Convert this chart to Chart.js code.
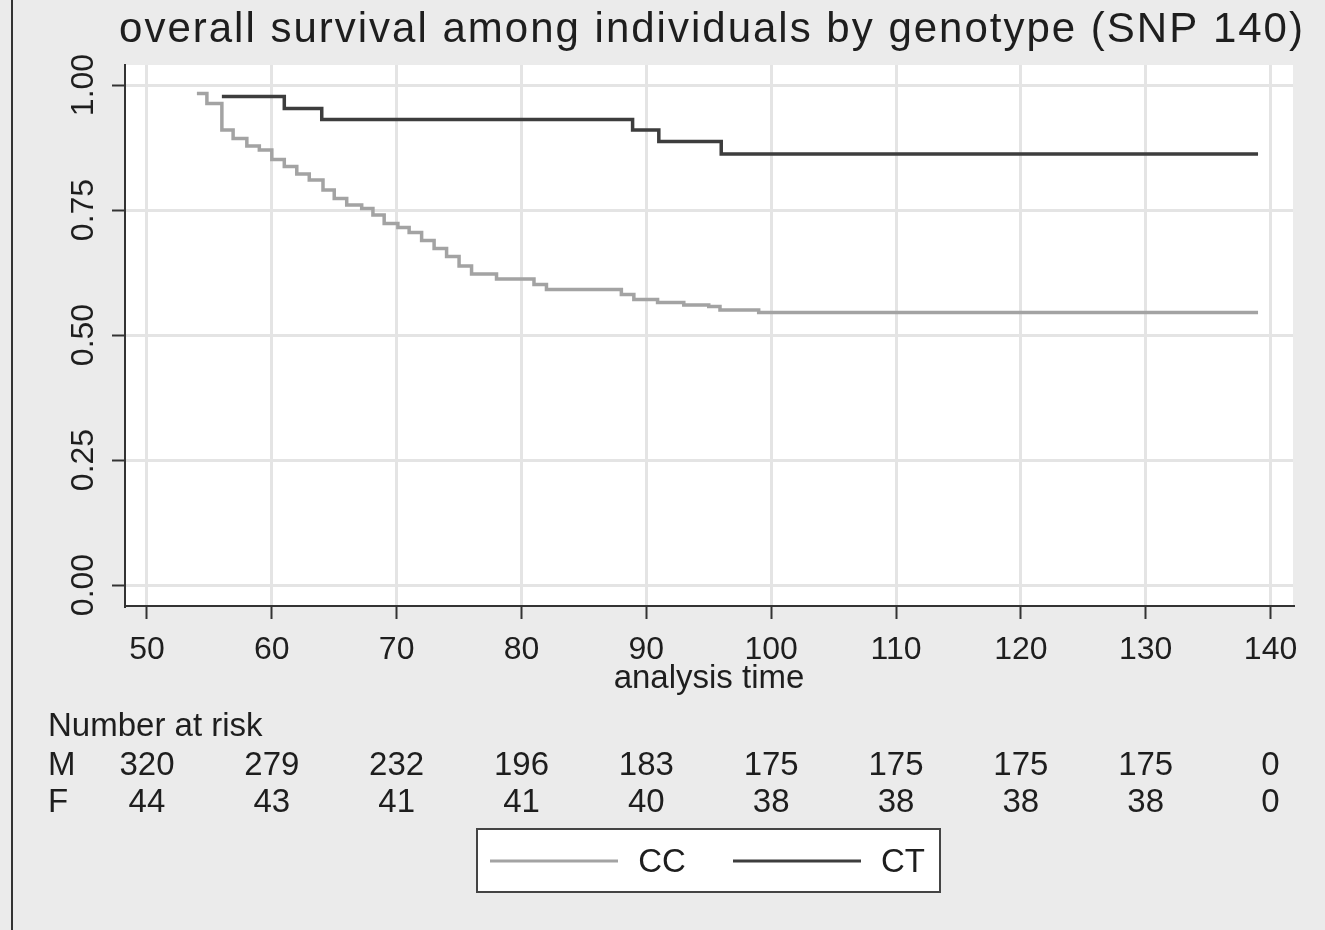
<!DOCTYPE html>
<html>
<head>
<meta charset="utf-8">
<script src="https://cdn.jsdelivr.net/npm/chart.js@4"></script>
<style>
  body { margin: 0; background: #ebebeb; }
  #wrap { width: 1325px; height: 930px; position: relative; }
</style>
</head>
<body>
<div id="wrap"><canvas id="myChart"></canvas></div>
<script>
// Kaplan-Meier steps
const ccTime = [54.0, 54.8, 56.0, 56.9, 58.0, 59.0, 60.0, 61.0, 62.0, 63.0, 64.1, 65.0, 66.0, 67.2, 68.1, 69.0, 70.1, 71.0, 72.0, 73.0, 74.0, 75.0, 76.0, 78.0, 81.0, 82.0, 88.0, 89.0, 90.9, 93.0, 95.0, 95.9, 99.0, 139.0];
const ccSurv = [0.983, 0.963, 0.910, 0.893, 0.878, 0.870, 0.851, 0.837, 0.822, 0.810, 0.790, 0.773, 0.760, 0.753, 0.740, 0.723, 0.715, 0.705, 0.689, 0.673, 0.657, 0.638, 0.622, 0.612, 0.601, 0.591, 0.581, 0.571, 0.565, 0.560, 0.557, 0.550, 0.545, 0.545];
const ctTime = [56.0, 61.0, 64.0, 88.9, 91.0, 96.0, 139.0];
const ctSurv = [0.977, 0.953, 0.931, 0.910, 0.887, 0.862, 0.862];

// number at risk table
const riskTimes = [50, 60, 70, 80, 90, 100, 110, 120, 130, 140];
const riskM = [320, 279, 232, 196, 183, 175, 175, 175, 175, 0];
const riskF = [44, 43, 41, 41, 40, 38, 38, 38, 38, 0];

const FONT = "'Liberation Sans', Arial, Helvetica, sans-serif";
Chart.defaults.font.family = FONT;
Chart.defaults.color = '#1e1e1e';

function toPoints(xs, ys) {
  return xs.map((x, i) => ({x: x, y: ys[i]}));
}

const stataPlugin = {
  id: 'stataLook',
  beforeDraw(chart) {
    const {ctx, chartArea: a} = chart;
    ctx.save();
    ctx.fillStyle = '#ebebeb';
    ctx.fillRect(0, 0, chart.width, chart.height);
    ctx.fillStyle = '#ffffff';
    ctx.fillRect(a.left, a.top, a.right - a.left, a.bottom - a.top);
    ctx.fillStyle = '#333';
    ctx.fillRect(11, 0, 2, chart.height);
    ctx.restore();
  },
  afterDraw(chart) {
    const ctx = chart.ctx;
    const xs = chart.scales.x;
    ctx.save();
    ctx.fillStyle = '#1e1e1e';
    // title
    ctx.font = '42px ' + FONT;
    if ('letterSpacing' in ctx) ctx.letterSpacing = '2px';
    ctx.textAlign = 'center';
    ctx.textBaseline = 'alphabetic';
    ctx.fillText('overall survival among individuals by genotype (SNP 140)', 712, 42);
    if ('letterSpacing' in ctx) ctx.letterSpacing = '0px';

    // number at risk
    ctx.font = '33px ' + FONT;
    ctx.textBaseline = 'middle';
    ctx.textAlign = 'left';
    ctx.fillText('Number at risk', 48, 727);
    ctx.fillText('M', 48, 766);
    ctx.fillText('F', 48, 803);
    ctx.textAlign = 'center';
    riskTimes.forEach((t, i) => {
      const px = xs.getPixelForValue(t);
      ctx.fillText(String(riskM[i]), px, 766);
      ctx.fillText(String(riskF[i]), px, 803);
    });

    // legend box
    ctx.fillStyle = '#ffffff';
    ctx.fillRect(477, 829, 463, 63);
    ctx.strokeStyle = '#444';
    ctx.lineWidth = 2;
    ctx.strokeRect(477, 829, 463, 63);
    const items = [[490, 618, 662], [733, 861, 903]];
    chart.data.datasets.forEach((ds, i) => {
      const [x0, x1, tx] = items[i];
      ctx.strokeStyle = ds.borderColor;
      ctx.lineWidth = 3;
      ctx.beginPath();
      ctx.moveTo(x0, 861);
      ctx.lineTo(x1, 861);
      ctx.stroke();
      ctx.fillStyle = '#1e1e1e';
      ctx.textAlign = 'center';
      ctx.fillText(ds.label, tx, 863);
    });
    ctx.restore();
  }
};

const myChart = new Chart(document.getElementById('myChart'), {
  type: 'line',
  data: {
    datasets: [
      {
        label: 'CC',
        data: toPoints(ccTime, ccSurv),
        borderColor: '#a3a3a3',
        borderWidth: 3.5,
        stepped: true,
        pointRadius: 0,
        fill: false
      },
      {
        label: 'CT',
        data: toPoints(ctTime, ctSurv),
        borderColor: '#3d3d3d',
        borderWidth: 3.5,
        stepped: true,
        pointRadius: 0,
        fill: false
      }
    ]
  },
  options: {
    animation: false,
    responsive: true,
    maintainAspectRatio: false,
    layout: {
      padding: {top: 65, right: 32, bottom: 231, left: 0}
    },
    plugins: {
      legend: {display: false},
      title: {display: false},
      tooltip: {enabled: false}
    },
    scales: {
      x: {
        type: 'linear',
        min: 48.24,
        max: 141.8,
        afterFit(scale) { scale.height = 93; },
        ticks: {
          stepSize: 10,
          includeBounds: false,
          padding: 12,
          font: {size: 32},
          color: '#1e1e1e',
          maxRotation: 0
        },
        grid: {
          color: '#e4e4e4',
          lineWidth: 3,
          tickColor: '#333',
          tickLength: 13,
          tickWidth: 2
        },
        border: {color: '#333', width: 2},
        title: {
          display: true,
          text: 'analysis time',
          font: {size: 33},
          color: '#1e1e1e',
          padding: {top: 0, bottom: 0}
        }
      },
      y: {
        min: -0.042,
        max: 1.04,
        afterFit(scale) { scale.width = 125; },
        ticks: {
          stepSize: 0.25,
          includeBounds: false,
          minRotation: 90,
          maxRotation: 90,
          crossAlign: 'center',
          padding: -3,
          font: {size: 32},
          color: '#1e1e1e',
          callback: (v) => v.toFixed(2)
        },
        grid: {
          color: '#e4e4e4',
          lineWidth: 3,
          tickColor: '#333',
          tickLength: 13,
          tickWidth: 2
        },
        border: {color: '#333', width: 2}
      }
    }
  },
  plugins: [stataPlugin]
});
</script>
</body>
</html>
